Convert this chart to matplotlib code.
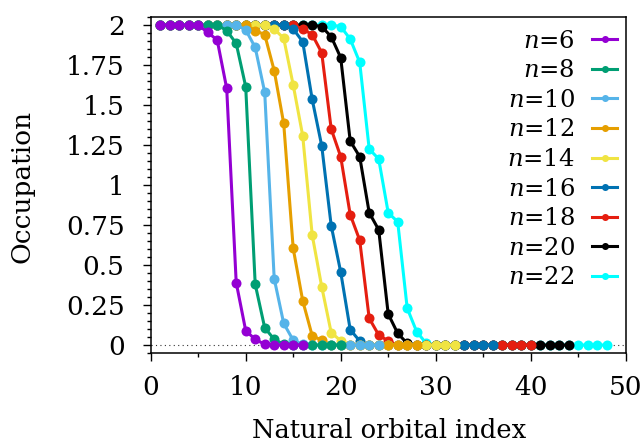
"""Natural orbital occupations for increasing n (gnuplot-style recreation)."""

import matplotlib

matplotlib.use("Agg")
import matplotlib.pyplot as plt
from matplotlib.ticker import MultipleLocator

# Occupation per natural orbital index (1 .. 2n+4).
occ_n6 = [2.0, 2.0, 2.0, 2.0, 2.0, 1.954, 1.906, 1.604, 0.39, 0.09, 0.035, 0.005,
          0.0, 0.0, 0.0, 0.0]
occ_n8 = [2.0, 2.0, 2.0, 2.0, 2.0, 2.0, 2.0, 1.965, 1.885, 1.615, 0.38, 0.108,
          0.035, 0.005, 0.0, 0.0, 0.0, 0.0, 0.0, 0.0]
occ_n10 = [2.0, 2.0, 2.0, 2.0, 2.0, 2.0, 2.0, 2.0, 2.0, 1.97, 1.86, 1.58, 0.415,
           0.135, 0.03, 0.005, 0.0, 0.0, 0.0, 0.0, 0.0, 0.0, 0.0, 0.0]
occ_n12 = [2.0, 2.0, 2.0, 2.0, 2.0, 2.0, 2.0, 2.0, 2.0, 2.0, 1.965, 1.94, 1.715,
           1.385, 0.604, 0.277, 0.058, 0.03, 0.0, 0.0, 0.0, 0.0, 0.0, 0.0, 0.0,
           0.0, 0.0, 0.0]
occ_n14 = [2.0, 2.0, 2.0, 2.0, 2.0, 2.0, 2.0, 2.0, 2.0, 2.0, 2.0, 2.0, 1.975,
           1.917, 1.625, 1.308, 0.6875, 0.365, 0.077, 0.027, 0.0, 0.0, 0.0, 0.0,
           0.0, 0.0, 0.0, 0.0, 0.0, 0.0, 0.0, 0.0]
occ_n16 = [2.0, 2.0, 2.0, 2.0, 2.0, 2.0, 2.0, 2.0, 2.0, 2.0, 2.0, 2.0, 2.0, 2.0,
           1.975, 1.896, 1.535, 1.246, 0.746, 0.456, 0.096, 0.025, 0.0, 0.0, 0.0,
           0.0, 0.0, 0.0, 0.0, 0.0, 0.0, 0.0, 0.0, 0.0, 0.0, 0.0]
occ_n18 = [2.0, 2.0, 2.0, 2.0, 2.0, 2.0, 2.0, 2.0, 2.0, 2.0, 2.0, 2.0, 2.0, 2.0,
           2.0, 1.975, 1.94, 1.827, 1.35, 1.177, 0.815, 0.655, 0.167, 0.0625,
           0.025, 0.0, 0.0, 0.0, 0.0, 0.0, 0.0, 0.0, 0.0, 0.0, 0.0, 0.0, 0.0,
           0.0, 0.0, 0.0]
occ_n20 = [2.0, 2.0, 2.0, 2.0, 2.0, 2.0, 2.0, 2.0, 2.0, 2.0, 2.0, 2.0, 2.0, 2.0,
           2.0, 2.0, 2.0, 1.99, 1.927, 1.796, 1.275, 1.177, 0.827, 0.72, 0.194,
           0.073, 0.01, 0.0, 0.0, 0.0, 0.0, 0.0, 0.0, 0.0, 0.0, 0.0, 0.0, 0.0,
           0.0, 0.0, 0.0, 0.0, 0.0, 0.0]
occ_n22 = [2.0, 2.0, 2.0, 2.0, 2.0, 2.0, 2.0, 2.0, 2.0, 2.0, 2.0, 2.0, 2.0, 2.0,
           2.0, 2.0, 2.0, 2.0, 2.0, 1.99, 1.9125, 1.767, 1.225, 1.1625, 0.827,
           0.77, 0.23, 0.083, 0.01, 0.0, 0.0, 0.0, 0.0, 0.0, 0.0, 0.0, 0.0, 0.0,
           0.0, 0.0, 0.0, 0.0, 0.0, 0.0, 0.0, 0.0, 0.0, 0.0]

N_VALUES = [6, 8, 10, 12, 14, 16, 18, 20, 22]
SERIES = [occ_n6, occ_n8, occ_n10, occ_n12, occ_n14, occ_n16, occ_n18, occ_n20, occ_n22]
COLORS = ["#9400d3", "#009e73", "#56b4e9", "#e69f00", "#f0e442",
          "#0072b2", "#e51e10", "#000000", "#00ffff"]

FONT = "DejaVu Serif"
FS_TICK = 19
FS_LABEL = 18.5
FS_LEGEND = 17.5

plt.rcParams["font.family"] = [FONT]
plt.rcParams["mathtext.fontset"] = "dejavuserif"

W, H, DPI = 641, 443, 100
fig = plt.figure(figsize=(W / DPI, H / DPI), dpi=DPI)
ax_l, ax_r, ax_t, ax_b = 150.7, 625.7, 17.0, 353.0
ax = fig.add_axes([ax_l / W, 1 - ax_b / H, (ax_r - ax_l) / W, (ax_b - ax_t) / H])

for i, (n, occ, color) in enumerate(zip(N_VALUES, SERIES, COLORS)):
    idx = list(range(1, len(occ) + 1))
    ax.plot(idx, occ, color=color, linewidth=2.2, marker="o", markersize=7.2,
            markeredgewidth=0, label=f"$n$={n}", zorder=20 - i)

ax.axhline(0, color="#333333", linewidth=0.8, linestyle=(0, (1, 3)), zorder=1)

ax.set_xlim(0, 50)
ax.set_ylim(-0.05, 2.05)
ax.xaxis.set_major_locator(MultipleLocator(10))
ax.xaxis.set_minor_locator(MultipleLocator(5))
ax.yaxis.set_minor_locator(MultipleLocator(0.05))
ax.set_yticks([0, 0.25, 0.5, 0.75, 1, 1.25, 1.5, 1.75, 2])
ax.set_yticklabels(["0", "0.25", "0.5", "0.75", "1", "1.25", "1.5", "1.75", "2"])

for spine in ax.spines.values():
    spine.set_linewidth(1.1)
ax.tick_params(which="both", direction="out", top=False, right=False, width=1.0,
               labelsize=FS_TICK)
ax.tick_params(which="major", length=5.8)
ax.tick_params(which="minor", length=2.9)
ax.tick_params(axis="y", which="major", pad=13)
ax.tick_params(axis="x", which="major", pad=10)

fig.text(22 / W, 1 - 186 / H, "Occupation", rotation=90, ha="center", va="center",
         fontsize=FS_LABEL + 0.5)
fig.text(389 / W, 1 - 438 / H, "Natural orbital index", ha="center", va="baseline",
         fontsize=FS_LABEL)

leg = ax.legend(loc="upper right", bbox_to_anchor=(0.982, 0.962), frameon=False,
                markerfirst=False, fontsize=FS_LEGEND, handlelength=1.02,
                handletextpad=0.72, labelspacing=0.27, borderpad=0,
                borderaxespad=0, markerscale=0.7)
for handle in leg.legend_handles:
    handle.set_linewidth(2.2)

fig.savefig("out.png", dpi=DPI)
